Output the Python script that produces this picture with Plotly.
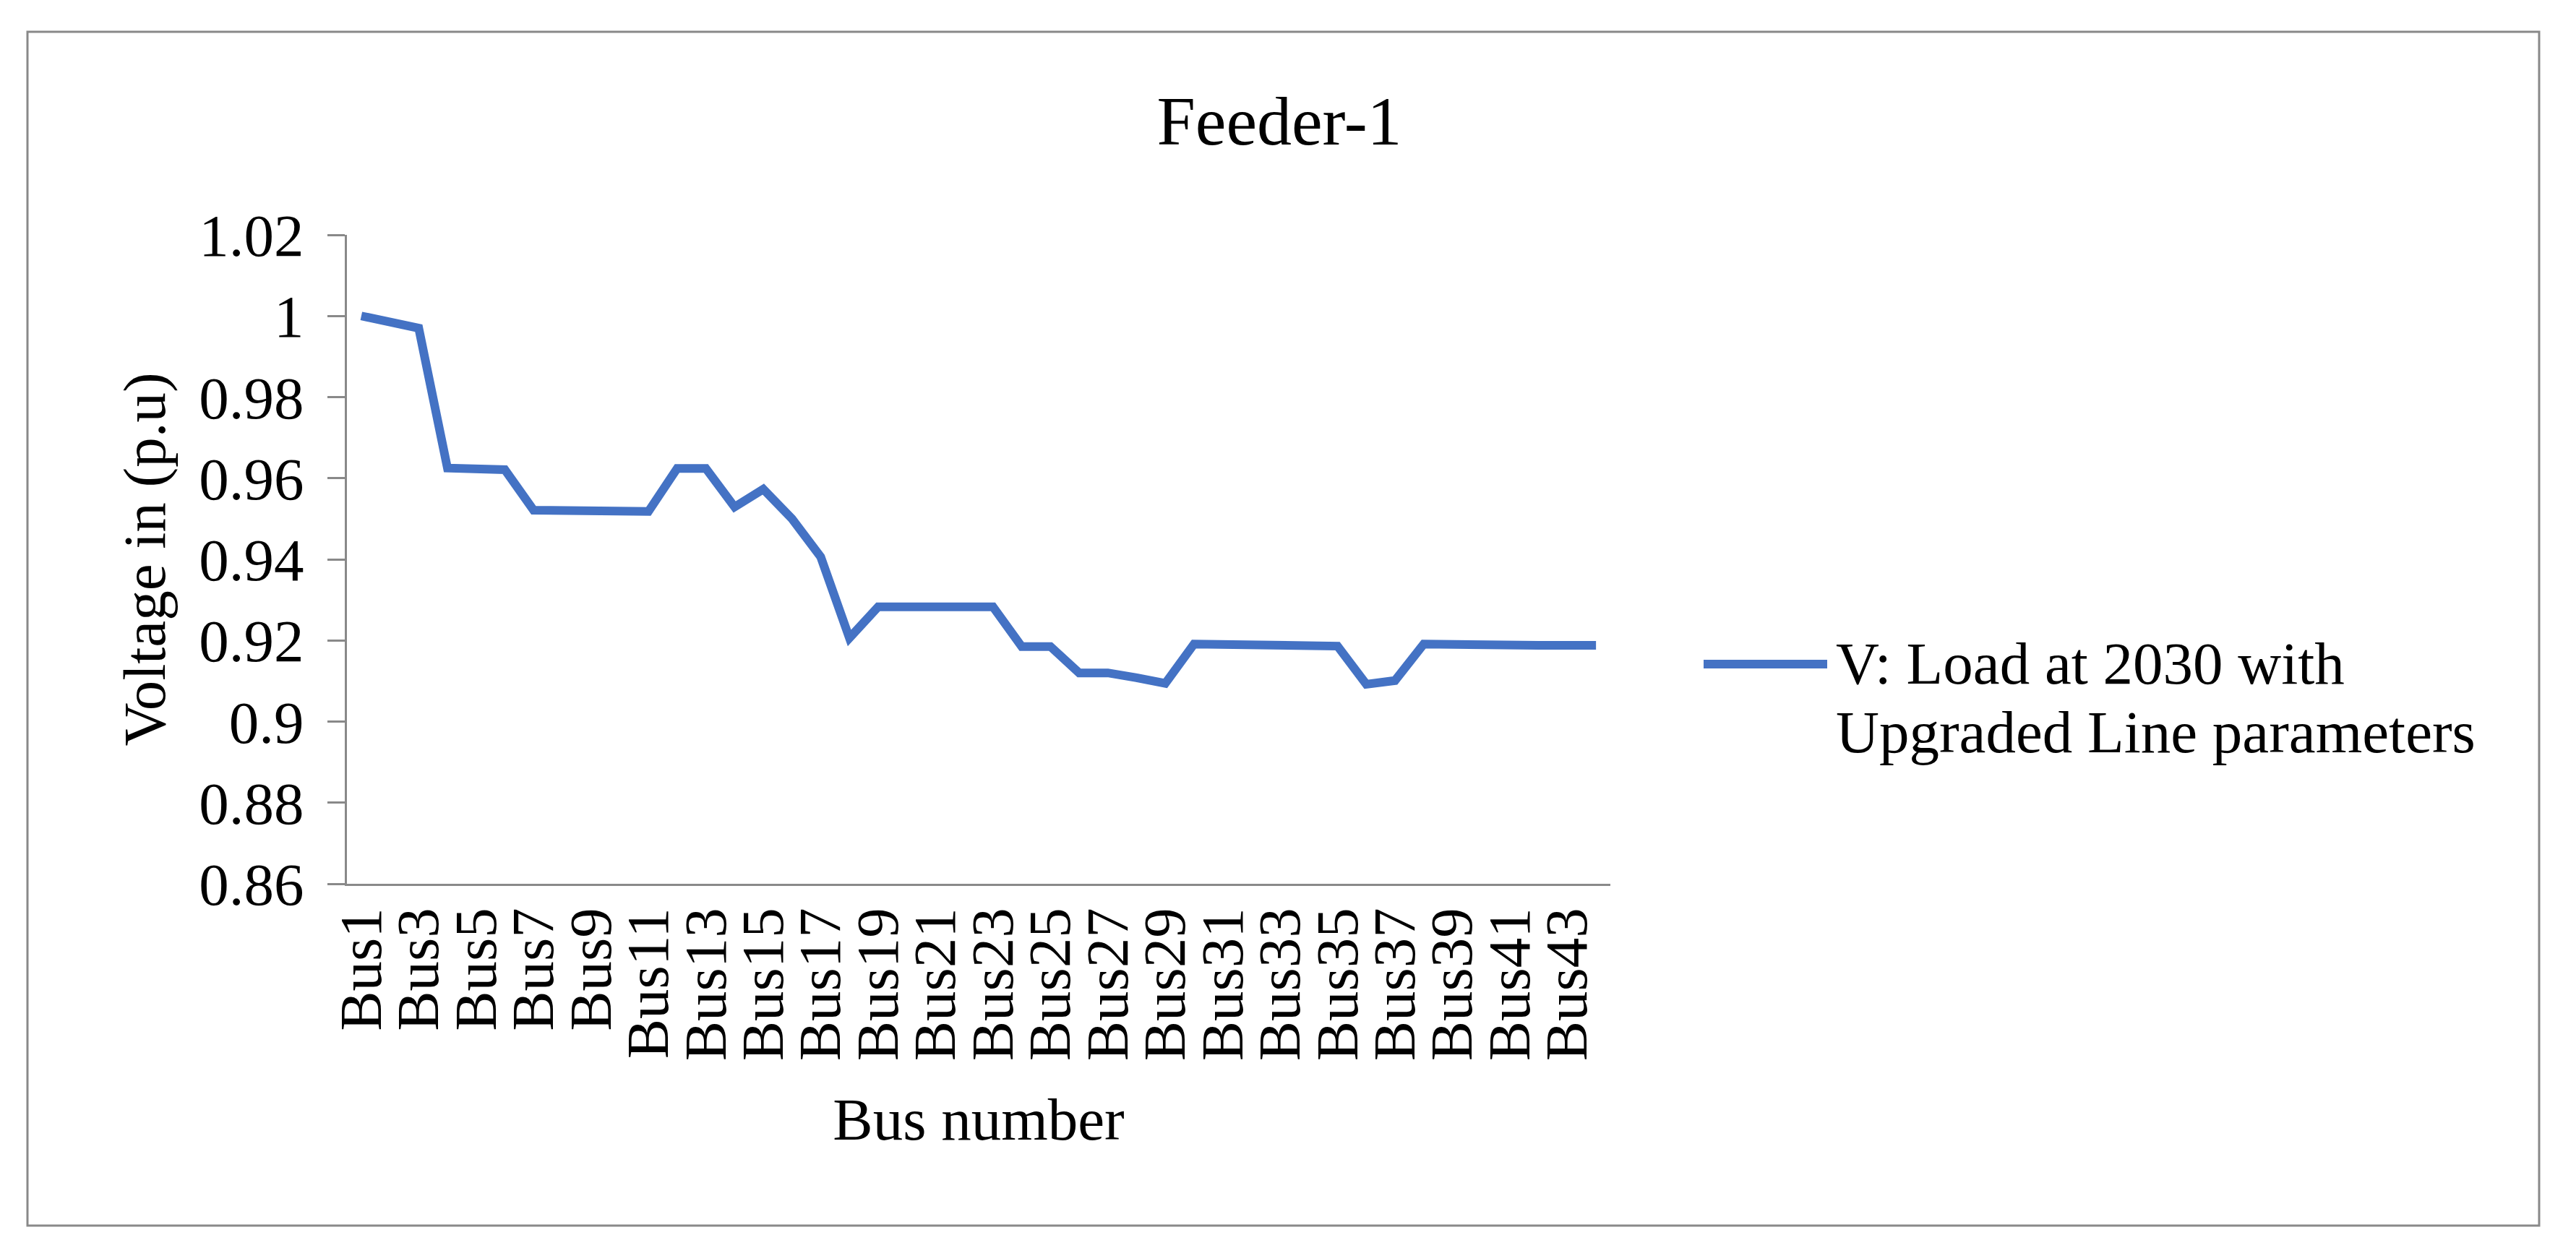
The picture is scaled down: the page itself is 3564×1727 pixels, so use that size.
import plotly.graph_objects as go

# ---------------- data ----------------
buses = ["Bus1", "Bus2", "Bus3", "Bus4", "Bus5", "Bus6", "Bus7", "Bus8", "Bus9", "Bus10",
         "Bus11", "Bus12", "Bus13", "Bus14", "Bus15", "Bus16", "Bus17", "Bus18", "Bus19", "Bus20",
         "Bus21", "Bus22", "Bus23", "Bus24", "Bus25", "Bus26", "Bus27", "Bus28", "Bus29", "Bus30",
         "Bus31", "Bus32", "Bus33", "Bus34", "Bus35", "Bus36", "Bus37", "Bus38", "Bus39", "Bus40",
         "Bus41", "Bus42", "Bus43", "Bus44"]

voltage = [1.0000, 0.9985, 0.9970, 0.9625, 0.9623, 0.9621, 0.9521, 0.9520, 0.9519, 0.9518,
           0.9518, 0.9624, 0.9624, 0.9529, 0.9573, 0.9500, 0.9406, 0.9206, 0.9283, 0.9283,
           0.9283, 0.9283, 0.9283, 0.9185, 0.9185, 0.9120, 0.9120, 0.9108, 0.9094, 0.9191,
           0.9189, 0.9187, 0.9186, 0.9186, 0.9186, 0.9092, 0.9101, 0.9191, 0.9189, 0.9188,
           0.9188, 0.9188, 0.9188, 0.9188]

x_tick_labels = ["Bus1", "Bus3", "Bus5", "Bus7", "Bus9", "Bus11", "Bus13", "Bus15", "Bus17",
                 "Bus19", "Bus21", "Bus23", "Bus25", "Bus27", "Bus29", "Bus31", "Bus33", "Bus35",
                 "Bus37", "Bus39", "Bus41", "Bus43"]

y_tick_vals = [0.86, 0.88, 0.90, 0.92, 0.94, 0.96, 0.98, 1.00, 1.02]
y_tick_text = ["0.86", "0.88", "0.9", "0.92", "0.94", "0.96", "0.98", "1", "1.02"]

series_name_line1 = "V: Load at 2030 with"
series_name_line2 = "Upgraded Line parameters"
chart_title = "Feeder-1"
x_title = "Bus number"
y_title = "Voltage in (p.u)"

# ---------------- layout geometry (pixels) ----------------
W, H = 3564, 1727
PL, PR, PT, PB = 480, 2228, 325, 1223  # plot area edges
FONT = "Times New Roman, Liberation Serif, serif"
AXIS_COLOR = "#898989"
LINE_COLOR = "#4472C4"


def px_x(p):
    return (p - PL) / (PR - PL)


def px_y(p):
    return (PB - p) / (PB - PT)


fig = go.Figure()
fig.add_trace(go.Scatter(
    x=buses, y=voltage, mode="lines",
    line=dict(color=LINE_COLOR, width=12),
    showlegend=False, cliponaxis=False,
))

fig.update_layout(
    width=W, height=H,
    margin=dict(l=PL, r=W - PR, t=PT, b=H - PB, pad=0),
    paper_bgcolor="white", plot_bgcolor="white",
    font=dict(family=FONT, size=83, color="black"),
    title=dict(text=chart_title, font=dict(family=FONT, size=96, color="black"),
               x=1770 / W, xanchor="center", xref="container",
               y=1 - 166 / H, yanchor="middle", yref="container"),
    showlegend=False,
)

fig.update_xaxes(
    type="category", range=[-0.5, len(buses) - 0.5], automargin=False,
    showline=True, linecolor=AXIS_COLOR, linewidth=3,
    ticks="", tickmode="array", tickvals=x_tick_labels, ticktext=x_tick_labels,
    tickangle=-90, tickfont=dict(family=FONT, size=83, color="black"),
    ticklabelstandoff=-3,
    showgrid=False, zeroline=False,
    title=dict(text=x_title, font=dict(family=FONT, size=83, color="black"), standoff=52),
)

fig.update_yaxes(
    range=[0.86, 1.02], tickmode="array", tickvals=y_tick_vals, ticktext=y_tick_text,
    automargin=False,
    ticks="outside", ticklen=24, tickwidth=3, tickcolor=AXIS_COLOR,
    showline=True, linecolor=AXIS_COLOR, linewidth=3,
    tickfont=dict(family=FONT, size=83, color="black"),
    ticklabelstandoff=16,
    showgrid=False, zeroline=False,
    title=dict(text=y_title, font=dict(family=FONT, size=83, color="black"), standoff=20),
)

# chart border
fig.add_shape(type="rect", xref="paper", yref="paper",
              x0=px_x(38), x1=px_x(3513), y0=px_y(1696), y1=px_y(44),
              line=dict(color=AXIS_COLOR, width=3), fillcolor="rgba(0,0,0,0)", layer="below")

# legend (long line sample + two-line label)
fig.add_shape(type="line", xref="paper", yref="paper",
              x0=px_x(2357), x1=px_x(2528), y0=px_y(919), y1=px_y(919),
              line=dict(color=LINE_COLOR, width=12))
fig.add_annotation(text=series_name_line1, xref="paper", yref="paper",
                   x=px_x(2538), y=px_y(918), xanchor="left", yanchor="middle",
                   showarrow=False, font=dict(family=FONT, size=83, color="black"))
fig.add_annotation(text=series_name_line2, xref="paper", yref="paper",
                   x=px_x(2538), y=px_y(1013), xanchor="left", yanchor="middle",
                   showarrow=False, font=dict(family=FONT, size=83, color="black"))

fig.write_html("out.html", config={"displayModeBar": False},
               post_script="document.body.style.margin='0';")
